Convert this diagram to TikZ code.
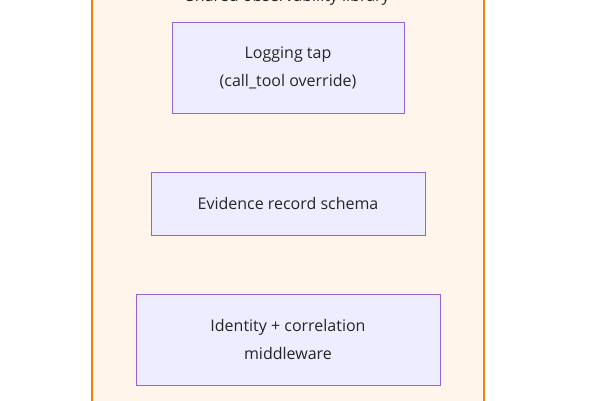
\documentclass[tikz,border=0pt]{standalone}
\usepackage{fontspec}
\setmainfont{Open Sans}
\begin{document}
\begin{tikzpicture}[x=1pt,y=-1pt,
  bx/.style={draw=violet!60!blue!60, fill=blue!7, line width=1pt, align=center, font=\fontsize{16}{28}\selectfont, text=black!85}]
\useasboundingbox (0,0) rectangle (600,400);
\clip (0,0) rectangle (600,400);
\draw[draw=orange!85!brown, fill=orange!8, line width=1.2pt] (92,-40) rectangle (484,440);
\node[font=\fontsize{16}{18}\selectfont, text=black!85] (title) at (288,-3) {Shared observability library};
\node[bx, minimum width=232, minimum height=91] (log) at (288,67.5) {Logging tap\\(call\_tool override)};
\node[bx, minimum width=274, minimum height=63] (ev) at (288,203.5) {Evidence record schema};
\node[bx, minimum width=304, minimum height=91] (id) at (288,339.5) {Identity + correlation\\middleware};
\end{tikzpicture}
\end{document}
